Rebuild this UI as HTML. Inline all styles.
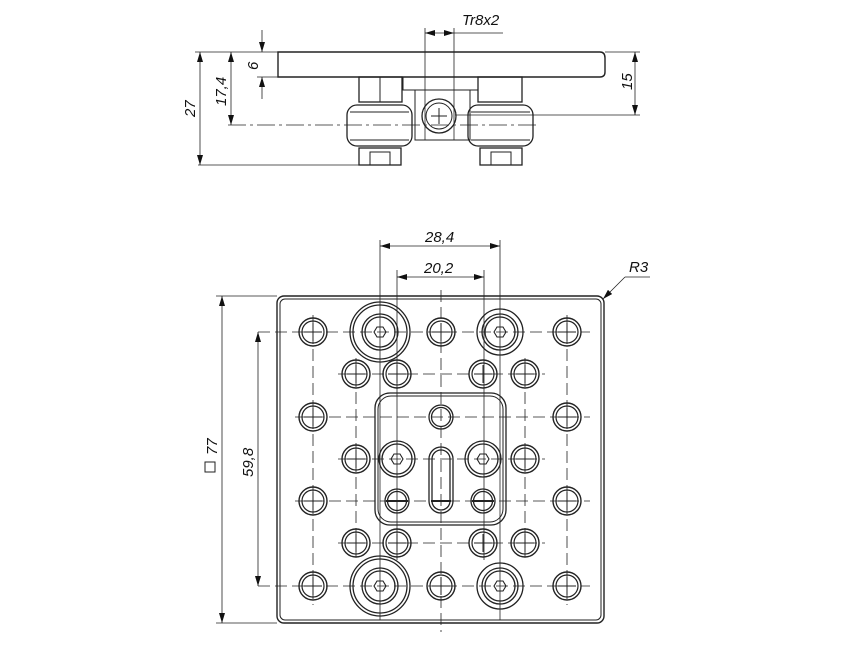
<!DOCTYPE html>
<html><head><style>
html,body{margin:0;padding:0;background:#fff}
svg{display:block}
text{font-family:"Liberation Sans",sans-serif;font-style:italic;font-size:15px;fill:#111}
</style></head><body>
<svg width="867" height="650" viewBox="0 0 867 650" xmlns="http://www.w3.org/2000/svg">
<defs>
<marker id="a" viewBox="0 0 10 6" refX="10" refY="3" markerWidth="10" markerHeight="6" orient="auto-start-reverse" markerUnits="userSpaceOnUse"><path d="M0,0 L10,3 L0,6z" fill="#111"/></marker>
<g id="sh"><circle r="14" fill="none" stroke="#222" stroke-width="1.4"/><circle r="11" fill="none" stroke="#222" stroke-width="1.2"/><path d="M-9,0H9M0,-9V9" stroke="#222" stroke-width="1"/></g>
<g id="hex"><polygon points="-6,0 -3,-5 3,-5 6,0 3,5 -3,5" fill="none" stroke="#222" stroke-width="1.1"/></g>
</defs>
<g stroke="#222" fill="none" stroke-width="1">
<path d="M278,52 H600 Q605,52 605,58 V72 Q605,77 600,77 H278 Z" stroke-width="1.4"/>
<rect x="359" y="77" width="43" height="25" stroke-width="1.3"/>
<line x1="380" y1="77" x2="380" y2="102"/>
<rect x="403" y="77" width="75" height="13"/>
<rect x="478" y="77" width="44" height="25" stroke-width="1.3"/>
<rect x="415" y="90" width="55" height="50"/>
<rect x="347" y="105" width="65" height="41" rx="10" stroke-width="1.3"/>
<line x1="350" y1="112" x2="409" y2="112"/><line x1="350" y1="140" x2="409" y2="140"/>
<rect x="468" y="105" width="65" height="41" rx="10" stroke-width="1.3"/>
<line x1="471" y1="112" x2="530" y2="112"/><line x1="471" y1="140" x2="530" y2="140"/>
<circle cx="439" cy="116" r="17" stroke-width="1.3"/><circle cx="439" cy="116" r="13"/>
<path d="M431,116H447M439,108V124"/>
<rect x="359" y="148" width="42" height="17" stroke-width="1.3"/><rect x="370" y="152" width="20" height="13"/>
<rect x="480" y="148" width="42" height="17" stroke-width="1.3"/><rect x="491" y="152" width="20" height="13"/>
<line x1="195" y1="52" x2="278" y2="52" stroke-width="0.8"/>
<line x1="605" y1="52" x2="640" y2="52" stroke-width="0.8"/>
<line x1="257" y1="77" x2="278" y2="77" stroke-width="0.8"/>
<line x1="228" y1="125" x2="540" y2="125" stroke-width="0.8" stroke-dasharray="18,4,3,4"/>
<line x1="455" y1="115" x2="640" y2="115" stroke-width="0.8"/>
<line x1="198" y1="165" x2="400" y2="165" stroke-width="0.8"/>
<line x1="200" y1="52" x2="200" y2="165" marker-start="url(#a)" marker-end="url(#a)" stroke-width="0.8"/>
<line x1="231" y1="52" x2="231" y2="125" marker-start="url(#a)" marker-end="url(#a)" stroke-width="0.8"/>
<line x1="262" y1="30" x2="262" y2="52" marker-end="url(#a)" stroke-width="0.8"/>
<line x1="262" y1="99" x2="262" y2="77" marker-end="url(#a)" stroke-width="0.8"/>
<line x1="635" y1="52" x2="635" y2="115" marker-start="url(#a)" marker-end="url(#a)" stroke-width="0.8"/>
<line x1="425" y1="28" x2="425" y2="140" stroke-width="0.8"/>
<line x1="454" y1="28" x2="454" y2="140" stroke-width="0.8"/>
<line x1="425" y1="33" x2="454" y2="33" marker-start="url(#a)" marker-end="url(#a)" stroke-width="0.8"/>
<line x1="454" y1="33" x2="503" y2="33" stroke-width="0.8"/>
<rect x="277" y="296" width="327" height="327" rx="7" stroke-width="1.4"/>
<rect x="280" y="299" width="321" height="321" rx="5"/>
<rect x="375" y="393" width="131" height="132" rx="15" stroke-width="1.3"/>
<rect x="378" y="396" width="125" height="126" rx="13"/>
<g stroke-width="0.8" stroke-dasharray="12,5">
<line x1="258" y1="332" x2="590" y2="332"/><line x1="338" y1="374" x2="545" y2="374"/>
<line x1="295" y1="417" x2="590" y2="417"/><line x1="338" y1="459" x2="545" y2="459"/>
<line x1="295" y1="501" x2="590" y2="501"/><line x1="338" y1="543" x2="545" y2="543"/>
<line x1="258" y1="586" x2="590" y2="586"/>
<line x1="313" y1="315" x2="313" y2="605"/><line x1="356" y1="358" x2="356" y2="560"/>
<line x1="441" y1="290" x2="441" y2="632"/><line x1="525" y1="358" x2="525" y2="560"/>
<line x1="567" y1="315" x2="567" y2="605"/>
</g>
<g stroke-width="0.8">
<line x1="380" y1="240" x2="380" y2="620"/><line x1="500" y1="240" x2="500" y2="620"/>
<line x1="397" y1="270" x2="397" y2="560"/><line x1="484" y1="270" x2="484" y2="560"/>
<line x1="380" y1="246" x2="500" y2="246" marker-start="url(#a)" marker-end="url(#a)"/>
<line x1="397" y1="277" x2="484" y2="277" marker-start="url(#a)" marker-end="url(#a)"/>
<line x1="216" y1="296" x2="277" y2="296"/><line x1="216" y1="623" x2="277" y2="623"/>
<line x1="222" y1="296" x2="222" y2="623" marker-start="url(#a)" marker-end="url(#a)"/>
<line x1="258" y1="332" x2="258" y2="586" marker-start="url(#a)" marker-end="url(#a)"/>
<polyline points="625,277 650,277"/>
<line x1="625" y1="277" x2="603" y2="299" marker-end="url(#a)"/>
</g>
</g>
<g fill="#fff">
<use href="#sh" x="313" y="332"/><use href="#sh" x="441" y="332"/><use href="#sh" x="567" y="332"/>
<use href="#sh" x="356" y="374"/><use href="#sh" x="397" y="374"/><use href="#sh" x="483" y="374"/><use href="#sh" x="525" y="374"/>
<use href="#sh" x="313" y="417"/><use href="#sh" x="567" y="417"/>
<use href="#sh" x="356" y="459"/><use href="#sh" x="525" y="459"/>
<use href="#sh" x="313" y="501"/><use href="#sh" x="567" y="501"/>
<use href="#sh" x="356" y="543"/><use href="#sh" x="397" y="543"/><use href="#sh" x="483" y="543"/><use href="#sh" x="525" y="543"/>
<use href="#sh" x="313" y="586"/><use href="#sh" x="441" y="586"/><use href="#sh" x="567" y="586"/>
</g>
<g stroke="#222" fill="none" stroke-width="1.3">
<circle cx="441" cy="417" r="12"/><circle cx="441" cy="417" r="9.5"/>
<circle cx="397" cy="501" r="12"/><circle cx="397" cy="501" r="9.5"/>
<circle cx="483" cy="501" r="12"/><circle cx="483" cy="501" r="9.5"/>
<line x1="386" y1="501" x2="408" y2="501" stroke-width="2"/><line x1="472" y1="501" x2="494" y2="501" stroke-width="2"/>
<rect x="429" y="447" width="24" height="66" rx="12"/><rect x="432" y="450" width="18" height="60" rx="9"/>
<line x1="431" y1="501" x2="451" y2="501" stroke-width="2"/>
<circle cx="397" cy="459" r="18"/><circle cx="397" cy="459" r="15"/><use href="#hex" x="397" y="459"/>
<circle cx="483" cy="459" r="18"/><circle cx="483" cy="459" r="15"/><use href="#hex" x="483" y="459"/>
<circle cx="380" cy="332" r="30"/><circle cx="380" cy="332" r="27"/><circle cx="380" cy="332" r="18"/><circle cx="380" cy="332" r="15"/><use href="#hex" x="380" y="332"/>
<circle cx="380" cy="586" r="30"/><circle cx="380" cy="586" r="27"/><circle cx="380" cy="586" r="18"/><circle cx="380" cy="586" r="15"/><use href="#hex" x="380" y="586"/>
<circle cx="500" cy="332" r="23"/><circle cx="500" cy="332" r="18"/><circle cx="500" cy="332" r="15"/><use href="#hex" x="500" y="332"/>
<circle cx="500" cy="586" r="23"/><circle cx="500" cy="586" r="18"/><circle cx="500" cy="586" r="15"/><use href="#hex" x="500" y="586"/>
</g>
<text x="462" y="25">Tr8x2</text>
<text x="425" y="242">28,4</text>
<text x="424" y="273">20,2</text>
<text x="629" y="272">R3</text>
<text transform="translate(195,117) rotate(-90)">27</text>
<text transform="translate(226,106) rotate(-90)">17,4</text>
<text transform="translate(258,70) rotate(-90)">6</text>
<text transform="translate(632,90) rotate(-90)">15</text>
<text transform="translate(253,477) rotate(-90)">59,8</text>
<text transform="translate(217,455) rotate(-90)">77</text>
<rect x="205" y="462" width="10" height="10" fill="none" stroke="#222" stroke-width="1"/>
</svg>
</body></html>
